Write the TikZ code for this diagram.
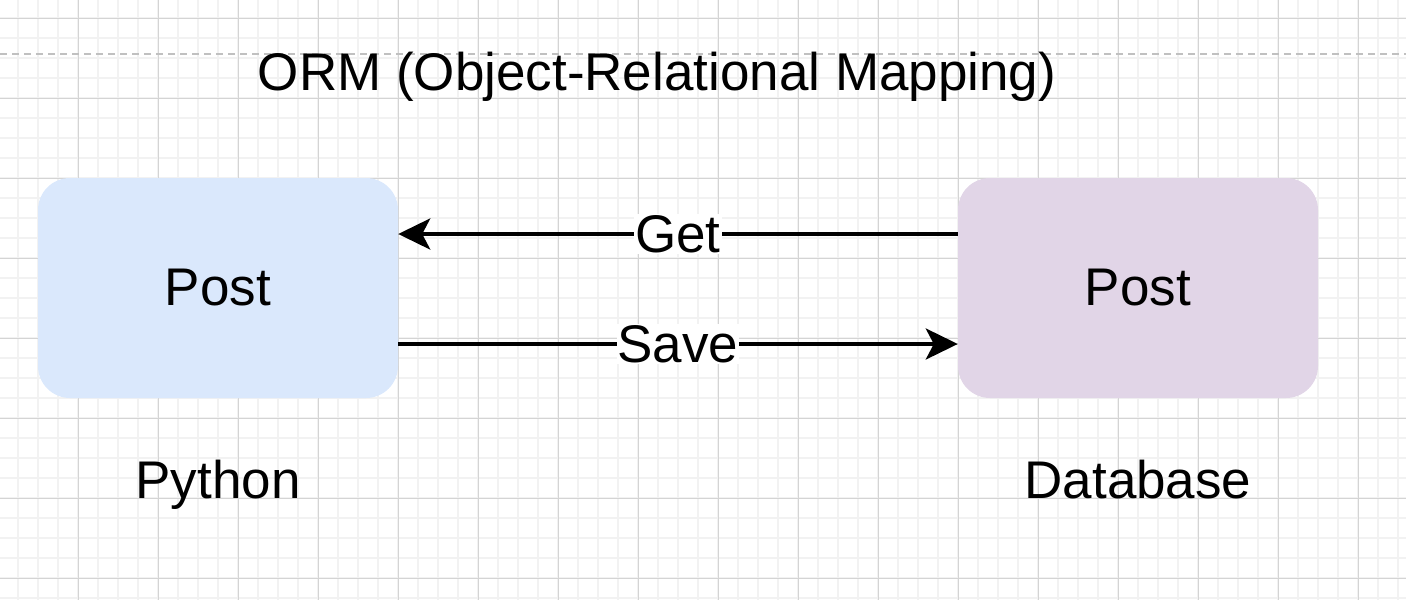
\documentclass[tikz,border=0pt]{standalone}
\usepackage{fontspec}
\setmainfont{Liberation Sans}
\usetikzlibrary{arrows.meta}
\definecolor{pyblue}{HTML}{DAE8FC}
\definecolor{dbpurple}{HTML}{E1D5E7}
\definecolor{gridminor}{HTML}{F2F2F2}
\definecolor{gridmajor}{HTML}{D4D4D4}
\definecolor{dashgray}{HTML}{C0C0C0}
\tikzset{
  obj/.style={rounded corners=32pt, minimum width=360pt, minimum height=220pt, inner sep=0pt},
  conn/.style={line width=4pt, -{Stealth[length=32pt,width=31pt,inset=8pt]}},
  lbl/.style={fill=white, inner sep=1pt},
}

\begin{document}
\begin{tikzpicture}[x=1pt,y=-1pt,font=\fontsize{53}{60}\selectfont]
  \useasboundingbox (0,0) rectangle (1406,600);
  % grid
  \foreach \g in {18,38,...,1398} \draw[gridminor, line width=1.5pt] (\g,0) -- (\g,600);
  \foreach \g in {18,38,...,598} \draw[gridminor, line width=1.5pt] (0,\g) -- (1406,\g);
  \foreach \g in {78,158,...,1358} \draw[gridmajor, line width=1pt] (\g,0) -- (\g,600);
  \foreach \g in {18,98,...,578} \draw[gridmajor, line width=1pt] (0,\g) -- (1406,\g);
  % page break
  \draw[dashgray, line width=2pt, dash pattern=on 7pt off 5pt] (0,54) -- (1406,54);
  % title
  \node[anchor=base] (title) at (657,90) {ORM (Object-Relational Mapping)};
  % objects
  \node[obj, fill=pyblue] (py) at (218,288) {Post};
  \node[obj, fill=dbpurple] (db) at (1138,288) {Post};
  \node[anchor=base] (pylbl) at (218,498) {Python};
  \node[anchor=base] (dblbl) at (1138,498) {Database};
  % mapping
  \draw[conn] ([yshift=54pt]db.west) -- node[lbl] {Get} ([yshift=54pt]py.east);
  \draw[conn] ([yshift=-56pt]py.east) -- node[lbl] {Save} ([yshift=-56pt]db.west);
\end{tikzpicture}
\end{document}
